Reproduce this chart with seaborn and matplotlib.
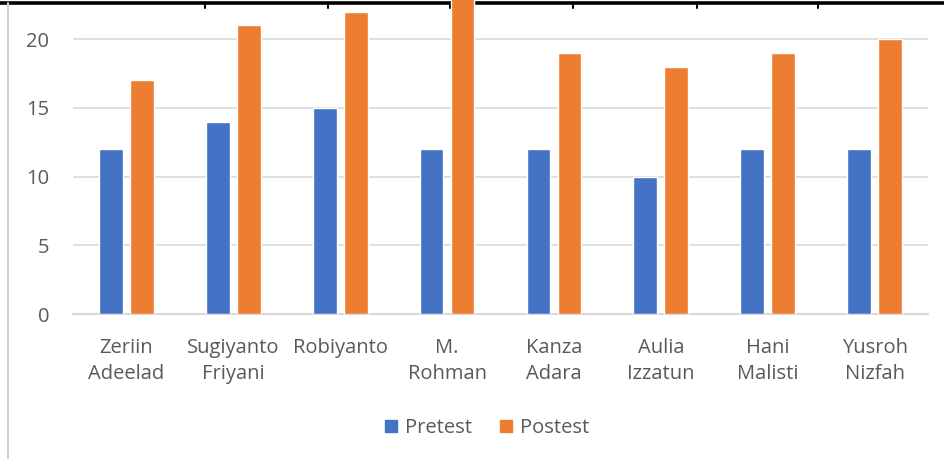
import matplotlib
matplotlib.use('Agg')
import matplotlib.pyplot as plt
import seaborn as sns
import pandas as pd
from matplotlib.lines import Line2D

# data
names = ["Zeriin\nAdeelad", "Sugiyanto\nFriyani", "Robiyanto", "M.\nRohman",
         "Kanza\nAdara", "Aulia\nIzzatun", "Hani\nMalisti", "Yusroh\nNizfah"]
pretest = [12, 14, 15, 12, 12, 10, 12, 12]
postest = [17, 21, 22, 23, 19, 18, 19, 20]
series = ["Pretest", "Postest"]
colors = ["#4472C4", "#ED7D31"]

df = pd.DataFrame({
    "name": names * 2,
    "score": pretest + postest,
    "test": [series[0]] * len(names) + [series[1]] * len(names),
})

sns.set_style("white")
plt.rcParams['font.family'] = ['Open Sans', 'DejaVu Sans']

W, H = 945, 459
fig = plt.figure(figsize=(W / 100, H / 100), dpi=100)
ax = fig.add_axes([73 / W, 1 - 314 / H, (928 - 73) / W, 314 / H])
ax.patch.set_alpha(0)

sns.barplot(data=df, x="name", y="score", hue="test", palette=colors,
            width=0.58, gap=0.23, ax=ax, zorder=3, saturation=1)

ax.set_ylim(0, 22.85)
ax.set_yticks([0, 5, 10, 15, 20])
ax.set_xlabel("")
ax.set_ylabel("")
ax.grid(axis='y', color='#D9D9D9', linewidth=1.2, zorder=0)
for s in ['top', 'right', 'left']:
    ax.spines[s].set_visible(False)
ax.spines['bottom'].set_color('#D9D9D9')
ax.spines['bottom'].set_linewidth(1.5)
ax.tick_params(axis='y', length=0, pad=17, labelsize=14.5, labelcolor='#595959')
ax.tick_params(axis='x', length=0, pad=17, labelsize=14.5, labelcolor='#595959')
for t in ax.get_xticklabels():
    t.set_linespacing(1.45)

ax.get_legend().remove()
handles = [plt.Rectangle((0, 0), 1, 1, color=c) for c in colors]
fig.legend(handles, series, loc='center', bbox_to_anchor=(487 / W, 1 - 428 / H),
           ncol=2, frameon=False, fontsize=14.5, labelcolor='#595959',
           handlelength=0.6, handleheight=0.6, handletextpad=0.4,
           columnspacing=1.4)

# sheet borders around the cropped chart
fig.add_artist(Line2D([0, 1], [1 - 3 / H, 1 - 3 / H], color='black', lw=2.6,
                      transform=fig.transFigure, zorder=-1))
for xp in [205, 328, 450, 573, 697, 818]:
    fig.add_artist(Line2D([xp / W, xp / W], [1 - 3 / H, 1 - 8 / H], color='black',
                          lw=1.5, transform=fig.transFigure, zorder=-1))
fig.add_artist(Line2D([8 / W, 8 / W], [0, 1 - 3 / H], color='#D0D0D0', lw=1.5,
                      transform=fig.transFigure, zorder=-1))

fig.savefig("out.png", dpi=100)
